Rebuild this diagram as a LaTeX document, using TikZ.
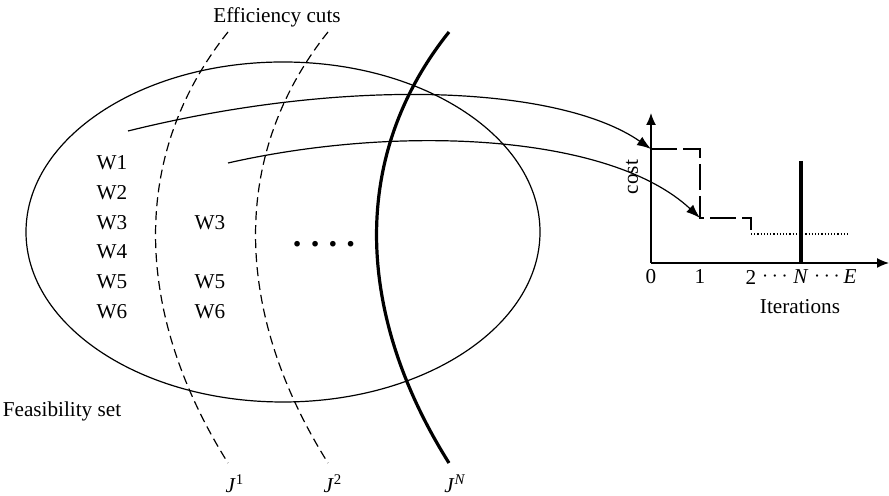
\documentclass[tikz,border=0pt]{standalone}
\usepackage{fontspec}
\setmainfont{Liberation Serif}
\usetikzlibrary{arrows.meta}

\begin{document}
\begin{tikzpicture}[x=0.5pt, y=0.5pt,
    set/.style={line width=0.6pt},
    cut/.style={line width=0.6pt, dash pattern=on 4.5pt off 2.5pt},
    lastcut/.style={line width=1.6pt},
    map/.style={line width=0.6pt, -{Latex[length=7pt, width=5pt]}},
    axis/.style={line width=0.7pt, -{Latex[length=6pt, width=5pt]}},
    costline/.style={line width=0.6pt, dash pattern=on 13pt off 3pt},
    tail/.style={line width=0.6pt, densely dotted},
    lbl/.style={inner sep=1pt, font=\fontsize{10.6}{12}\selectfont}]
  % A cut through the feasibility set: #1 = x-coordinate of its two ends, #2 = style.
  \newcommand{\effcut}[2]{%
    \draw[#2] (#1,464) .. controls (#1-103,335) and (#1-90,176) .. (#1,33);}

  \useasboundingbox (0,0) rectangle (889,496);

  % feasibility set with the solutions in it
  \draw[set] (283,264) ellipse [x radius=257, y radius=170];
  \node[lbl] (feas) at (62,85) {Feasibility set};
  \node[lbl] (w1) at (112,333) {W1};
  \node[lbl] (w2) at (112,303) {W2};
  \node[lbl] (w3) at (112,273) {W3};
  \node[lbl] (w4) at (112,244) {W4};
  \node[lbl] (w5) at (112,214) {W5};
  \node[lbl] (w6) at (112,184) {W6};
  \node[lbl] (v3) at (210,273) {W3};
  \node[lbl] (v5) at (210,214) {W5};
  \node[lbl] (v6) at (210,184) {W6};
  \node[lbl, anchor=base, font=\LARGE\bfseries] (more) at (324,249)
    {.\hspace{4.6pt}.\hspace{4.6pt}.\hspace{4.6pt}.};

  % efficiency cuts
  \node[lbl] (effcuts) at (277,479) {Efficiency cuts};
  \effcut{228}{cut}
  \effcut{328}{cut}
  \effcut{449}{lastcut}
  \node[lbl] (j1) at (235,12) {\textit{J}\textsuperscript{1}};
  \node[lbl] (j2) at (333,12) {\textit{J}\textsuperscript{2}};
  \node[lbl] (jn) at (455,12) {\textit{J}\textsuperscript{\itshape N}};

  % cost against iterations
  \coordinate (o) at (651,233);
  \coordinate (ytop) at (651,383);
  \coordinate (xend) at (889,233);
  \coordinate (c0) at (651,347);
  \coordinate (c1) at (700,278);
  \draw[axis] (o) -- (ytop);
  \draw[axis] (o) -- (xend);
  \draw[costline] (c0) -- (700,347) -- (c1) -- (751,278) -- (751,266);
  \draw[tail] (751,262) -- (850,262);
  \draw[lastcut] (801,335) -- (801,233);
  \node[lbl, rotate=90] (cost) at (632,319) {cost};
  \node[lbl] (t0) at (651,219) {0};
  \node[lbl] (t1) at (700,219) {1};
  \node[lbl] (t2) at (751,219) {2};
  \node[lbl] (d1) at (775,219) {$\cdots$};
  \node[lbl] (tn) at (801,219) {\textit{N}};
  \node[lbl] (d2) at (827,219) {$\cdots$};
  \node[lbl] (te) at (850,219) {\textit{E}};
  \node[lbl] (iter) at (800,189) {Iterations};

  % solutions mapped to their cost
  \coordinate (s1) at (128,365);
  \coordinate (s2) at (228,333);
  \draw[map] (s1) .. controls (350,420) and (560,410) .. (c0);
  \draw[map] (s2) .. controls (400,372) and (610,362) .. (c1);
\end{tikzpicture}
\end{document}
